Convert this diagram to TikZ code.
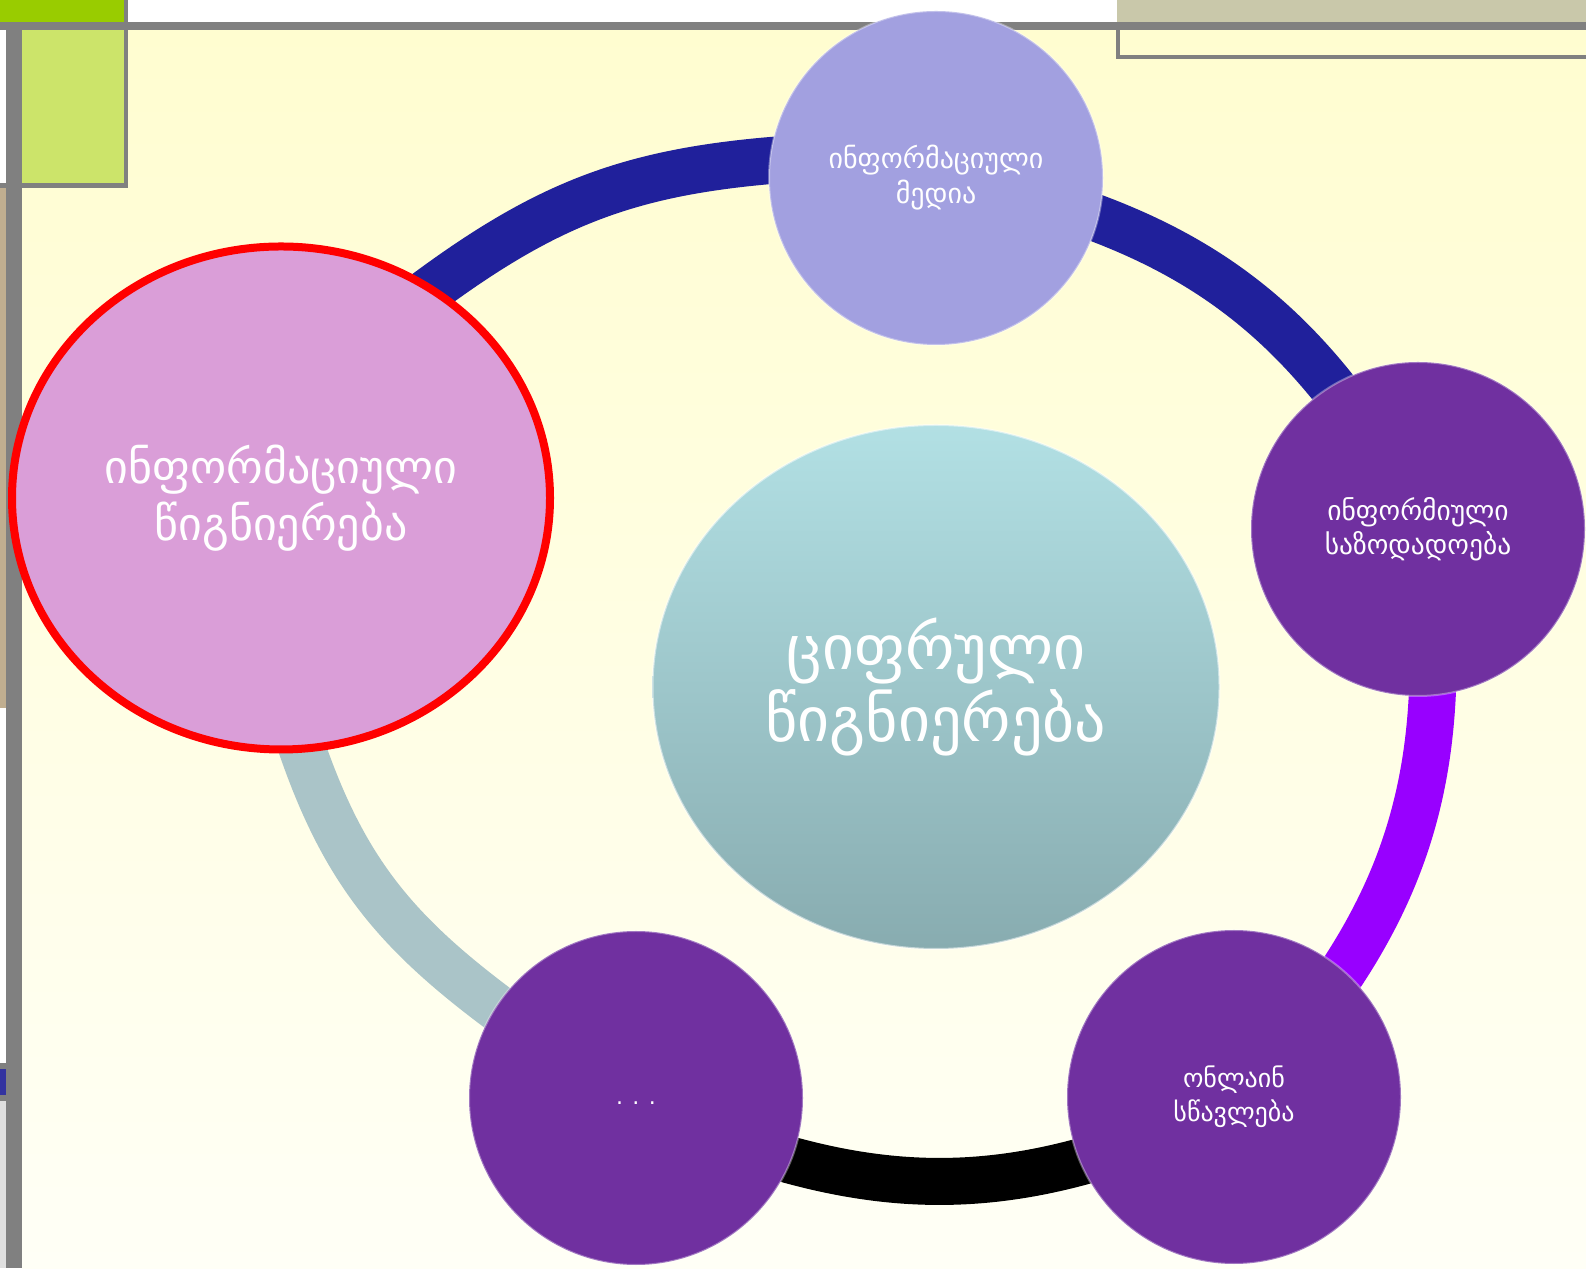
\documentclass[tikz,border=0pt]{standalone}
\usepackage{fontspec}
\setmainfont{DejaVu Sans}
\usetikzlibrary{shapes.geometric}
\definecolor{paper}{RGB}{255,253,208}
\definecolor{paperlow}{RGB}{255,255,246}
\definecolor{framegray}{RGB}{128,128,128}
\definecolor{limebar}{RGB}{153,204,0}
\definecolor{limebox}{RGB}{204,228,106}
\definecolor{khaki}{RGB}{201,200,170}
\definecolor{tanstrip}{RGB}{192,174,144}
\definecolor{bluestrip}{RGB}{51,51,160}
\definecolor{lilac}{RGB}{162,160,224}
\definecolor{plum}{RGB}{112,48,160}
\definecolor{orchid}{RGB}{218,158,216}
\definecolor{tealtop}{RGB}{178,224,228}
\definecolor{tealbot}{RGB}{136,172,176}
\definecolor{navyband}{RGB}{32,32,155}
\definecolor{violetband}{RGB}{152,0,255}
\definecolor{grayband}{RGB}{170,196,200}
\pgfdeclarelayer{bg}
\pgfsetlayers{bg,main}
\tikzset{
  bubble/.style={circle, minimum size=334pt, inner sep=0pt, fill=plum, draw=white, draw opacity=.35, line width=2pt, text=white, align=center},
  band/.style={line width=47pt, shorten <=-25pt, shorten >=-25pt},
}
\begin{document}
\begin{tikzpicture}[x=1pt,y=1pt]
\useasboundingbox (0,0) rectangle (1586,1268);
\node[bubble, fill=lilac, font=\fontsize{28}{35}\selectfont] (media) at (936,1090) {ინფორმაციული\\მედია};
\node[bubble, font=\fontsize{27.5}{34}\selectfont] (society) at (1418,739) {ინფორმიული\\საზოდადოება};
\node[bubble, font=\fontsize{26}{34}\selectfont] (online) at (1234,171) {ონლაინ\\სწავლება};
\node[bubble, text height=14pt, text depth=0pt, font=\fontsize{22}{24}\selectfont] (dots) at (636,170) {. . .};
\node[ellipse, minimum width=538pt, minimum height=503pt, inner sep=0pt, fill=orchid, draw=red, line width=8pt, text=white, align=center, font=\fontsize{46}{57}\selectfont] (literacy) at (281,770) {ინფორმაციული\\წიგნიერება};
\node[ellipse, minimum width=567pt, minimum height=524pt, inner sep=0pt, top color=tealtop, bottom color=tealbot, draw=white, draw opacity=.5, line width=2pt, text=white, align=center, font=\fontsize{62}{72}\selectfont] (digital) at (936,581) {ციფრული\\წიგნიერება};
\begin{pgfonlayer}{bg}
\fill[white] (0,0) rectangle (1586,1268);
\shade[top color=paper, bottom color=paperlow] (22,0) rectangle (1586,1238);
\fill[limebar] (0,1246) rectangle (125,1268);
\fill[khaki] (1117,1246) rectangle (1586,1268);
\fill[limebox] (22,1085) rectangle (124,1238);
\fill[framegray] (0,1238) rectangle (1586,1246);
\fill[framegray] (124,1080) rectangle (128,1268);
\fill[framegray] (0,1080) rectangle (128,1085);
\fill[framegray] (6,0) rectangle (22,1238);
\fill[framegray] (1116,1209) rectangle (1120,1246);
\fill[framegray] (1116,1209) rectangle (1586,1213);
\fill[tanstrip] (0,560) rectangle (6,1080);
\fill[framegray] (0,167) rectangle (6,205);
\fill[bluestrip] (0,173) rectangle (6,199);
\fill[gray!25] (0,0) rectangle (6,167);
\draw[band, navyband] (literacy.54) to[out=37,in=184] (media.174);
\draw[band, navyband] (media.-14) to[out=-19,in=127,looseness=.87] (society.121);
\draw[band, violetband] (society.-85) to[out=-91,in=55,looseness=.87] (online.49);
\draw[band, black] (online.-157) to[out=-163,in=-17,looseness=.87] (dots.-22);
\draw[band, grayband] (literacy.-85) to[out=-72,in=144] (dots.147);
\end{pgfonlayer}
\end{tikzpicture}
\end{document}
